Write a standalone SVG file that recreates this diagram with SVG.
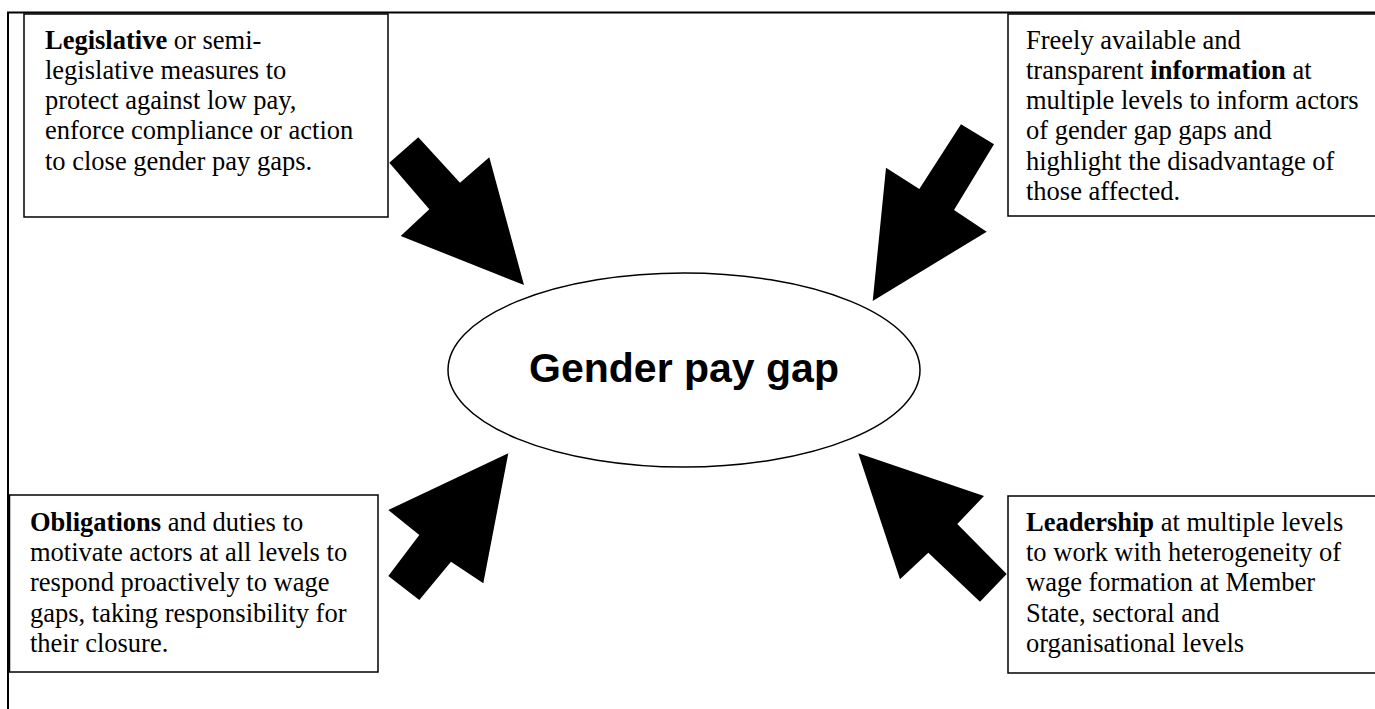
<svg xmlns="http://www.w3.org/2000/svg" width="1375" height="709" viewBox="0 0 1375 709">
<style>
.box{fill:#fff;stroke:#000;stroke-width:1.5}
.frame{fill:none;stroke:#000;stroke-width:2}
.t{font-family:"Liberation Serif","Times New Roman",serif;font-size:26.5px;fill:#000}
.b{font-weight:bold}
.arrow{fill:#000;stroke:none}
.title{font-family:"Liberation Sans",Arial,sans-serif;font-size:41px;font-weight:bold;fill:#000}
</style>
<rect width="1375" height="709" fill="#fff"/>
<path class="frame" d="M8,709 V12.5 H1375"/>
<g id="legislative">
<rect class="box" x="24" y="14" width="364" height="203"/>
<text class="t" x="45" y="48.5"><tspan class="b">Legislative</tspan> or semi-</text>
<text class="t" x="45" y="78.8">legislative measures to</text>
<text class="t" x="45" y="109">protect against low pay,</text>
<text class="t" x="45" y="139.3">enforce compliance or action</text>
<text class="t" x="45" y="169.5">to close gender pay gaps.</text>
</g>
<g id="information">
<rect class="box" x="1008" y="14" width="380" height="202"/>
<text class="t" x="1026" y="48.5">Freely available and</text>
<text class="t" x="1026" y="78.8">transparent <tspan class="b">information</tspan> at</text>
<text class="t" x="1026" y="109">multiple levels to inform actors</text>
<text class="t" x="1026" y="139.3">of gender gap gaps and</text>
<text class="t" x="1026" y="169.5">highlight the disadvantage of</text>
<text class="t" x="1026" y="199.8">those affected.</text>
</g>
<g id="obligations">
<rect class="box" x="9.5" y="495" width="368.5" height="177"/>
<text class="t" x="30" y="530.7"><tspan class="b">Obligations</tspan> and duties to</text>
<text class="t" x="30" y="561">motivate actors at all levels to</text>
<text class="t" x="30" y="591.4">respond proactively to wage</text>
<text class="t" x="30" y="621.8">gaps, taking responsibility for</text>
<text class="t" x="30" y="652.2">their closure.</text>
</g>
<g id="leadership">
<rect class="box" x="1008" y="496" width="380" height="177"/>
<text class="t" x="1026" y="530.7"><tspan class="b">Leadership</tspan> at multiple levels</text>
<text class="t" x="1026" y="561">to work with heterogeneity of</text>
<text class="t" x="1026" y="591.4">wage formation at Member</text>
<text class="t" x="1026" y="621.8">State, sectoral and</text>
<text class="t" x="1026" y="652.2">organisational levels</text>
</g>
<g id="gender-pay-gap">
<ellipse cx="684" cy="370" rx="236" ry="97" fill="#fff" stroke="#000" stroke-width="1.5"/>
<text class="title" x="684" y="382" text-anchor="middle">Gender pay gap</text>
</g>
<g id="connectors">
<polygon class="arrow" points="389.3,162.7 418.3,137.3 460,182.7 489.3,157.3 524,285 400.7,236 429.3,209.3"/>
<polygon class="arrow" points="994,144.3 961,124.3 919.3,189 886,167.7 872.7,301 986.7,231.7 954,210"/>
<polygon class="arrow" points="508.3,453.3 388.3,510 419.3,535 388.3,576 419.3,600 451,561.7 483.3,583.3"/>
<polygon class="arrow" points="858.3,453.3 984,496 957.3,524 1006.7,574 980,601.7 928.3,552.7 900,579.3"/>
</g>
</svg>
